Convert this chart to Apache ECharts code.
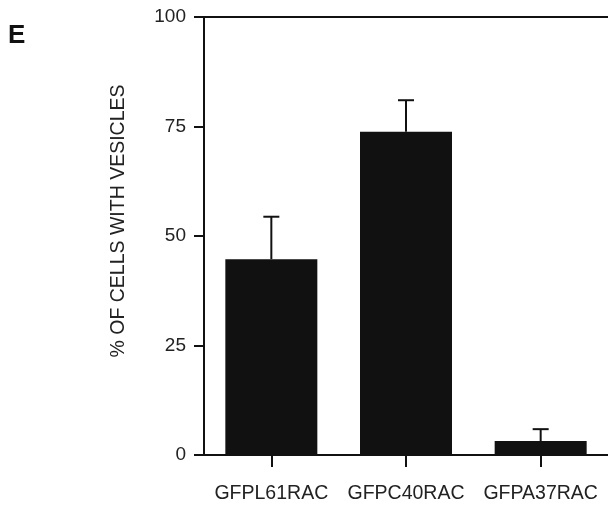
<!DOCTYPE html>
<html>
<head>
<meta charset="utf-8">
<script src="https://cdn.jsdelivr.net/npm/echarts@6/dist/echarts.min.js"></script>
<style>
    html, body { margin: 0; padding: 0; background: #fff; }
    #chart { width: 608px; height: 506px; }
</style>
</head>
<body>
<div id="chart"></div>
<script>
// 数据
var categories = ['GFPL61RAC', 'GFPC40RAC', 'GFPA37RAC'];
var means = [44.7, 73.8, 3.2];
var errors = [9.7, 7.2, 2.7];
var yTicks = [0, 25, 50, 75, 100];

var INK = '#111';
var FONT = '"Liberation Sans", Arial, Helvetica, sans-serif';

(function() {
    var chart = echarts.init(document.getElementById('chart'));

    // 误差线 [类别索引, 均值, 误差]
    var errData = categories.map(function(c, i) {
        return [i, means[i], errors[i]];
    });

    var option = {
        backgroundColor: '#fff',
        animation: false,
        graphic: [{
            type: 'text',
            left: 8,
            top: 23,
            style: { text: 'E', font: 'bold 26px ' + FONT, fill: INK }
        }],
        grid: { left: 204, right: -3, top: 17, bottom: 51 },
        xAxis: [{
            type: 'category',
            data: categories,
            axisLine: { lineStyle: { color: INK, width: 2 } },
            axisTick: { show: true, alignWithLabel: true, interval: 0, length: 12, lineStyle: { color: INK, width: 2 } },
            axisLabel: { color: '#222', fontSize: 19.5, fontFamily: FONT, margin: 29, interval: 0, hideOverlap: false }
        }, {
            type: 'category',
            data: categories,
            position: 'top',
            axisLine: { lineStyle: { color: INK, width: 2 } },
            axisTick: { show: false },
            axisLabel: { show: false }
        }],
        yAxis: {
            type: 'value',
            min: 0,
            max: 100,
            interval: 25,
            name: '% OF CELLS WITH VESICLES',
            nameLocation: 'middle',
            nameGap: 75,
            nameTextStyle: { color: '#222', fontSize: 19.5, fontFamily: FONT, padding: [0, 0, 0, 30] },
            axisLine: { show: true, lineStyle: { color: INK, width: 2 } },
            axisTick: { show: true, length: 10, lineStyle: { color: INK, width: 2 } },
            axisLabel: {
                color: '#222', fontSize: 19, fontFamily: FONT, margin: 18,
                formatter: function(v) { return yTicks.indexOf(v) >= 0 ? String(v) : ''; }
            },
            splitLine: { show: false }
        },
        series: [{
            type: 'bar',
            data: means,
            barWidth: 92,
            itemStyle: { color: INK },
            z: 2
        }, {
            type: 'custom',
            data: errData,
            z: 1,
            renderItem: function(params, api) {
                var i = api.value(0),
                    m = api.value(1),
                    e = api.value(2),
                    p0 = api.coord([i, m]),
                    p1 = api.coord([i, m + e]),
                    half = 8;
                return {
                    type: 'group',
                    children: [{
                        type: 'line',
                        shape: { x1: p0[0], y1: p0[1], x2: p1[0], y2: p1[1] },
                        style: { stroke: INK, lineWidth: 2 }
                    }, {
                        type: 'line',
                        shape: { x1: p1[0] - half, y1: p1[1], x2: p1[0] + half, y2: p1[1] },
                        style: { stroke: INK, lineWidth: 2 }
                    }]
                };
            }
        }]
    };

    chart.setOption(option);
})();
</script>
</body>
</html>
